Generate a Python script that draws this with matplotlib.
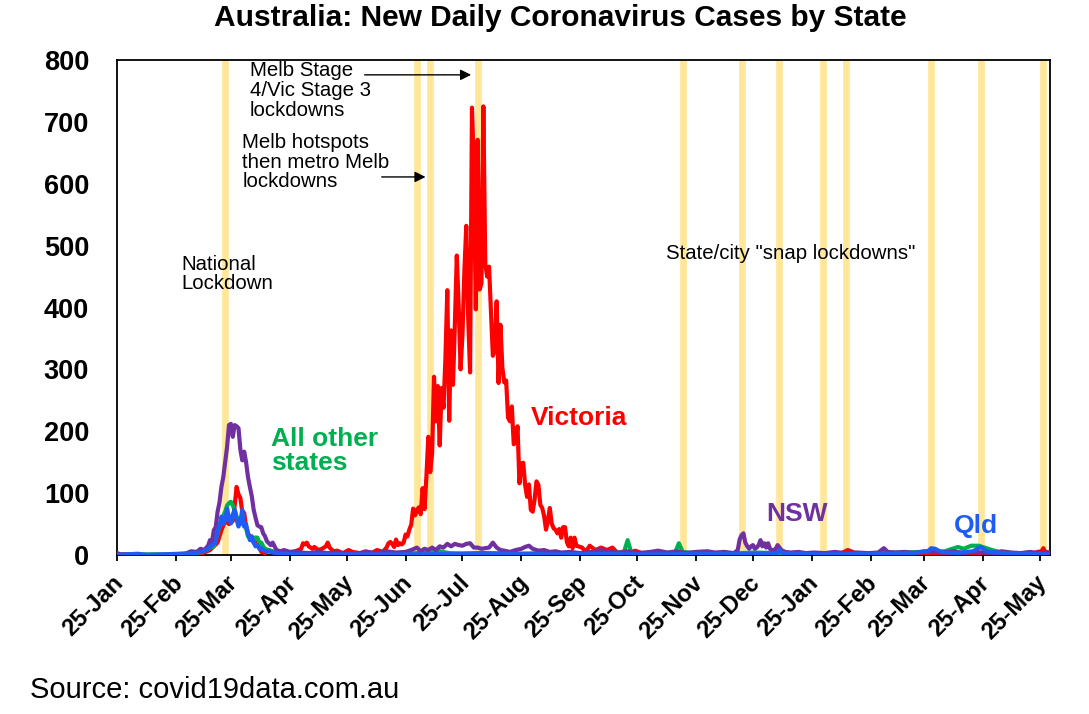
import matplotlib
matplotlib.use("Agg")
import matplotlib.pyplot as plt
import matplotlib.dates as mdates
from matplotlib.transforms import ScaledTranslation
import pandas as pd

plt.rcParams['font.family'] = ['Liberation Sans', 'DejaVu Sans']

# ---------------- data ----------------
vic_dates = [
    "2020-01-25", "2020-02-01", "2020-02-15", "2020-03-01", "2020-03-06", "2020-03-10",
    "2020-03-14", "2020-03-16", "2020-03-18", "2020-03-20", "2020-03-22", "2020-03-24",
    "2020-03-26", "2020-03-27", "2020-03-28", "2020-03-29", "2020-03-30", "2020-03-31",
    "2020-04-01", "2020-04-02", "2020-04-03", "2020-04-04", "2020-04-05", "2020-04-06",
    "2020-04-07", "2020-04-08", "2020-04-09", "2020-04-10", "2020-04-12", "2020-04-14",
    "2020-04-16", "2020-04-18", "2020-04-20", "2020-04-22", "2020-04-25", "2020-04-28",
    "2020-05-01", "2020-05-02", "2020-05-03", "2020-05-04", "2020-05-05", "2020-05-06",
    "2020-05-07", "2020-05-08", "2020-05-10", "2020-05-12", "2020-05-14", "2020-05-15",
    "2020-05-16", "2020-05-18", "2020-05-20", "2020-05-23", "2020-05-26", "2020-05-28",
    "2020-06-01", "2020-06-04", "2020-06-07", "2020-06-10", "2020-06-13", "2020-06-15",
    "2020-06-16", "2020-06-17", "2020-06-18", "2020-06-19", "2020-06-20", "2020-06-21",
    "2020-06-22", "2020-06-23", "2020-06-24", "2020-06-25", "2020-06-26", "2020-06-27",
    "2020-06-28", "2020-06-29", "2020-06-30",
    "2020-07-01", "2020-07-02", "2020-07-03", "2020-07-04", "2020-07-05", "2020-07-06",
    "2020-07-07", "2020-07-08", "2020-07-09", "2020-07-10", "2020-07-11", "2020-07-12",
    "2020-07-13", "2020-07-14", "2020-07-15", "2020-07-16", "2020-07-17", "2020-07-18",
    "2020-07-19", "2020-07-20", "2020-07-21", "2020-07-22", "2020-07-23", "2020-07-24",
    "2020-07-25", "2020-07-26", "2020-07-27", "2020-07-28", "2020-07-29", "2020-07-30",
    "2020-07-31", "2020-08-01", "2020-08-02", "2020-08-03", "2020-08-04", "2020-08-05",
    "2020-08-06", "2020-08-07", "2020-08-08", "2020-08-09", "2020-08-10", "2020-08-11",
    "2020-08-12", "2020-08-13", "2020-08-14", "2020-08-15", "2020-08-16", "2020-08-17",
    "2020-08-18", "2020-08-19", "2020-08-20", "2020-08-21", "2020-08-22", "2020-08-23",
    "2020-08-24", "2020-08-25", "2020-08-26", "2020-08-27", "2020-08-28", "2020-08-29",
    "2020-08-30", "2020-08-31", "2020-09-01", "2020-09-02", "2020-09-03", "2020-09-04",
    "2020-09-05", "2020-09-06", "2020-09-07", "2020-09-08", "2020-09-09", "2020-09-10",
    "2020-09-11", "2020-09-12", "2020-09-13", "2020-09-14", "2020-09-15", "2020-09-16",
    "2020-09-17", "2020-09-18", "2020-09-19", "2020-09-20", "2020-09-21", "2020-09-22",
    "2020-09-23", "2020-09-24", "2020-09-26", "2020-09-28", "2020-09-30", "2020-10-03",
    "2020-10-06", "2020-10-09", "2020-10-12", "2020-10-15", "2020-10-19", "2020-10-24",
    "2020-10-30", "2020-11-10", "2020-11-25", "2020-12-10", "2020-12-25", "2021-01-02",
    "2021-01-05", "2021-01-12", "2021-01-25", "2021-02-08", "2021-02-11", "2021-02-13",
    "2021-02-18", "2021-03-01", "2021-03-20", "2021-04-10", "2021-05-01", "2021-05-20",
    "2021-05-24", "2021-05-26", "2021-05-27", "2021-05-28", "2021-05-30",
]
vic_vals = [
    1, 0, 0, 0, 2, 3,
    8, 14, 20, 40, 55, 50,
    55, 80, 110, 98, 92, 70,
    68, 45, 35, 30, 25, 20,
    28, 18, 12, 5, 3, 8,
    5, 3, 5, 4, 3, 6,
    10, 19, 17, 20, 14, 12,
    10, 13, 8, 10, 14, 20,
    12, 6, 7, 3, 8, 5,
    3, 6, 3, 8, 5, 12,
    19, 21, 18, 13, 25, 16,
    19, 17, 20, 33, 30, 41,
    49, 75, 64,
    73, 77, 66, 108, 74, 127,
    191, 134, 165, 288, 216, 273,
    177, 270, 238, 317, 428, 217,
    363, 275, 374, 484, 403, 300,
    357, 459, 532, 384, 295, 723,
    627, 397, 671, 429, 439, 725,
    471, 450, 466, 394, 322, 331,
    410, 278, 372, 303, 279, 282,
    222, 216, 240, 179, 182, 208,
    116, 148, 149, 113, 94, 114,
    73, 70, 90, 119, 113, 81,
    76, 63, 41, 55, 76, 51,
    43, 41, 35, 42, 28, 45,
    45, 21, 14, 28, 11, 28,
    15, 14, 12, 5, 15, 8,
    12, 8, 12, 2, 1, 7,
    0, 0, 0, 0, 0, 3,
    5, 0, 0, 0, 5, 8,
    2, 0, 1, 0, 0, 1,
    5, 6, 11, 5, 4,
]

nsw_dates = [
    "2020-01-25", "2020-01-27", "2020-02-05", "2020-02-20", "2020-03-01", "2020-03-04",
    "2020-03-07", "2020-03-09", "2020-03-11", "2020-03-13", "2020-03-14", "2020-03-15",
    "2020-03-16", "2020-03-17", "2020-03-18", "2020-03-19", "2020-03-20", "2020-03-21",
    "2020-03-22", "2020-03-23", "2020-03-24", "2020-03-25", "2020-03-26", "2020-03-27",
    "2020-03-28", "2020-03-29", "2020-03-30", "2020-03-31", "2020-04-01", "2020-04-02",
    "2020-04-03", "2020-04-04", "2020-04-05", "2020-04-06", "2020-04-07", "2020-04-08",
    "2020-04-09", "2020-04-10", "2020-04-11", "2020-04-12", "2020-04-13", "2020-04-14",
    "2020-04-15", "2020-04-16", "2020-04-17", "2020-04-18", "2020-04-20", "2020-04-22",
    "2020-04-25", "2020-04-28", "2020-05-01", "2020-05-05", "2020-05-10", "2020-05-15",
    "2020-05-20", "2020-05-25", "2020-06-01", "2020-06-05", "2020-06-10", "2020-06-15",
    "2020-06-20", "2020-06-25", "2020-06-28", "2020-07-01", "2020-07-03", "2020-07-05",
    "2020-07-07", "2020-07-09", "2020-07-11", "2020-07-13", "2020-07-15", "2020-07-17",
    "2020-07-19", "2020-07-21", "2020-07-23", "2020-07-25", "2020-07-27", "2020-07-29",
    "2020-07-31", "2020-08-02", "2020-08-04", "2020-08-06", "2020-08-08", "2020-08-10",
    "2020-08-12", "2020-08-14", "2020-08-16", "2020-08-19", "2020-08-22", "2020-08-25",
    "2020-08-27", "2020-08-29", "2020-08-31", "2020-09-03", "2020-09-06", "2020-09-09",
    "2020-09-12", "2020-09-15", "2020-09-20", "2020-09-25", "2020-10-01", "2020-10-05",
    "2020-10-10", "2020-10-15", "2020-10-20", "2020-10-25", "2020-11-01", "2020-11-05",
    "2020-11-10", "2020-11-15", "2020-11-20", "2020-11-25", "2020-12-01", "2020-12-05",
    "2020-12-10", "2020-12-15", "2020-12-17", "2020-12-18", "2020-12-19", "2020-12-20",
    "2020-12-21", "2020-12-22", "2020-12-23", "2020-12-24", "2020-12-25", "2020-12-26",
    "2020-12-27", "2020-12-28", "2020-12-29", "2020-12-30", "2020-12-31", "2021-01-01",
    "2021-01-02", "2021-01-03", "2021-01-04", "2021-01-05", "2021-01-06", "2021-01-07",
    "2021-01-08", "2021-01-09", "2021-01-11", "2021-01-14", "2021-01-18", "2021-01-22",
    "2021-01-26", "2021-02-01", "2021-02-06", "2021-02-12", "2021-02-18", "2021-02-24",
    "2021-03-01", "2021-03-04", "2021-03-06", "2021-03-10", "2021-03-15", "2021-03-20",
    "2021-03-25", "2021-03-30", "2021-04-04", "2021-04-10", "2021-04-15", "2021-04-20",
    "2021-04-25", "2021-05-01", "2021-05-05", "2021-05-10", "2021-05-15", "2021-05-20",
    "2021-05-25", "2021-05-30",
]
nsw_vals = [
    3, 1, 0, 0, 2, 6,
    5, 10, 8, 15, 24, 20,
    40, 45, 70, 85, 110, 126,
    150, 175, 210, 212, 191, 210,
    208, 205, 170, 153, 167, 150,
    126, 110, 95, 73, 60, 48,
    46, 45, 35, 30, 22, 19,
    16, 20, 14, 8, 6, 8,
    5, 6, 4, 3, 5, 3,
    4, 2, 3, 5, 3, 6,
    4, 5, 8, 12, 6, 10,
    8, 12, 8, 14, 12, 18,
    14, 18, 16, 15, 18, 19,
    12, 12, 10, 11, 12, 20,
    12, 8, 7, 5, 8, 10,
    13, 15, 10, 7, 8, 5,
    6, 4, 5, 3, 5, 8,
    6, 4, 6, 3, 5, 7,
    4, 6, 3, 5, 6, 4,
    5, 3, 8, 25, 32, 35,
    20, 14, 10, 14, 16, 10,
    12, 16, 24, 14, 19, 12,
    19, 10, 8, 8, 10, 16,
    12, 8, 5, 4, 5, 3,
    4, 3, 5, 3, 4, 3,
    4, 11, 5, 4, 5, 3,
    6, 5, 4, 6, 3, 5,
    4, 3, 6, 4, 3, 5,
    3, 4,
]

oth_dates = [
    "2020-01-25", "2020-02-10", "2020-02-28", "2020-03-05", "2020-03-10", "2020-03-13",
    "2020-03-16", "2020-03-18", "2020-03-20", "2020-03-22", "2020-03-23", "2020-03-24",
    "2020-03-25", "2020-03-26", "2020-03-27", "2020-03-28", "2020-03-29", "2020-03-30",
    "2020-03-31", "2020-04-01", "2020-04-02", "2020-04-03", "2020-04-04", "2020-04-05",
    "2020-04-06", "2020-04-07", "2020-04-08", "2020-04-09", "2020-04-10", "2020-04-11",
    "2020-04-12", "2020-04-14", "2020-04-16", "2020-04-19", "2020-04-23", "2020-05-01",
    "2020-05-15", "2020-06-01", "2020-06-15", "2020-07-01", "2020-07-10", "2020-07-18",
    "2020-07-25", "2020-08-05", "2020-08-20", "2020-09-05", "2020-09-20", "2020-10-05",
    "2020-10-18", "2020-10-20", "2020-10-22", "2020-11-01", "2020-11-14", "2020-11-16",
    "2020-11-18", "2020-11-25", "2020-12-10", "2020-12-25", "2021-01-10", "2021-01-25",
    "2021-02-10", "2021-02-25", "2021-03-10", "2021-03-25", "2021-04-05", "2021-04-12",
    "2021-04-15", "2021-04-19", "2021-04-23", "2021-04-27", "2021-04-30", "2021-05-05",
    "2021-05-15", "2021-05-30",
]
oth_vals = [
    0, 1, 1, 2, 5, 10,
    14, 35, 57, 70, 80, 84,
    86, 80, 73, 62, 57, 50,
    55, 48, 43, 30, 28, 30,
    24, 28, 28, 19, 20, 14,
    10, 8, 6, 3, 2, 2,
    1, 2, 1, 3, 8, 3,
    2, 3, 2, 3, 2, 3,
    4, 24, 3, 2, 4, 19,
    5, 3, 2, 4, 3, 2,
    3, 2, 4, 5, 6, 13,
    10, 15, 15, 11, 8, 4,
    2, 2,
]

qld_dates = [
    "2020-01-25", "2020-01-29", "2020-02-05", "2020-02-10", "2020-03-05", "2020-03-10",
    "2020-03-13", "2020-03-15", "2020-03-17", "2020-03-18", "2020-03-19", "2020-03-20",
    "2020-03-21", "2020-03-22", "2020-03-23", "2020-03-24", "2020-03-25", "2020-03-26",
    "2020-03-27", "2020-03-28", "2020-03-29", "2020-03-30", "2020-03-31", "2020-04-01",
    "2020-04-02", "2020-04-03", "2020-04-04", "2020-04-05", "2020-04-06", "2020-04-07",
    "2020-04-08", "2020-04-09", "2020-04-10", "2020-04-11", "2020-04-13", "2020-04-15",
    "2020-04-18", "2020-04-22", "2020-05-01", "2020-06-01", "2020-07-01", "2020-07-20",
    "2020-08-05", "2020-08-20", "2020-09-10", "2020-10-01", "2020-11-01", "2020-12-01",
    "2020-12-25", "2021-01-07", "2021-01-08", "2021-01-10", "2021-02-01", "2021-03-01",
    "2021-03-20", "2021-03-27", "2021-03-29", "2021-03-31", "2021-04-03", "2021-04-10",
    "2021-04-20", "2021-04-24", "2021-04-27", "2021-05-05", "2021-05-20", "2021-05-30",
]
qld_vals = [
    0, 1, 2, 0, 3, 5,
    10, 16, 20, 40, 46, 62,
    50, 57, 75, 60, 51, 65,
    73, 57, 46, 55, 73, 46,
    50, 35, 24, 30, 20, 14,
    16, 10, 11, 8, 6, 5,
    3, 2, 1, 1, 1, 2,
    3, 2, 1, 2, 1, 2,
    2, 3, 8, 3, 1, 2,
    3, 6, 11, 10, 5, 3,
    6, 13, 6, 3, 2, 1,
]

lockdown_dates = [
    "2020-03-22", "2020-07-01", "2020-07-08", "2020-08-02", "2020-11-18", "2020-12-19",
    "2021-01-08", "2021-01-31", "2021-02-12", "2021-03-29", "2021-04-24", "2021-05-27",
]

tick_dates = pd.date_range("2020-01-01", "2021-05-01", freq="MS") + pd.Timedelta(days=24)
y_ticks = list(range(0, 801, 100))

RED = "#FF0000"
GREEN = "#00B050"
PURPLE = "#7030A0"
BLUE = "#1F5BF5"
BAND = "#FFE699"

# ---------------- figure ----------------
fig = plt.figure(figsize=(10.89, 7.14), dpi=100)
ax = fig.add_axes([117 / 1089, 1 - 555 / 714, (1050 - 117) / 1089, (555 - 60) / 714])

for d in lockdown_dates:
    ax.axvline(pd.Timestamp(d), color=BAND, lw=4.8, zorder=1)

lw = 3.0
ax.plot(pd.to_datetime(vic_dates), vic_vals, color=RED, lw=lw, zorder=3, solid_joinstyle="round")
ax.plot(pd.to_datetime(oth_dates), oth_vals, color=GREEN, lw=lw, zorder=3, solid_joinstyle="round")
ax.plot(pd.to_datetime(nsw_dates), nsw_vals, color=PURPLE, lw=lw, zorder=3, solid_joinstyle="round")
ax.plot(pd.to_datetime(qld_dates), qld_vals, color=BLUE, lw=lw, zorder=3, solid_joinstyle="round")

ax.set_xlim(pd.Timestamp("2020-01-25"), pd.Timestamp("2021-05-30 12:00"))
ax.set_ylim(0, 800)
ax.set_yticks(y_ticks)
ax.set_xticks(tick_dates)
ax.xaxis.set_major_formatter(mdates.DateFormatter("%d-%b"))

for sp in ax.spines.values():
    sp.set_linewidth(1.3)
    sp.set_color("black")

ax.tick_params(axis="y", length=0, pad=20, labelsize=19.5)
ax.tick_params(axis="x", direction="out", length=4.3, width=1.3, pad=7.5, labelsize=17)
for lbl in ax.get_yticklabels():
    lbl.set_fontweight("bold")
for lbl in ax.get_xticklabels():
    lbl.set_fontweight("bold")
    lbl.set_rotation(45)
    lbl.set_ha("right")
    lbl.set_va("top")
    lbl.set_rotation_mode("anchor")
    lbl.set_transform(lbl.get_transform() + ScaledTranslation(-5 / 100, 0, fig.dpi_scale_trans))

# ---------------- texts ----------------
fig.text(560 / 1089, 1 - 18 / 714, "Australia: New Daily Coronavirus Cases by State",
         ha="center", va="center", fontsize=21.5, fontweight="bold")
fig.text(30 / 1089, 1 - 690 / 714, "Source: covid19data.com.au",
         ha="left", va="center", fontsize=21)

ann_fs = 14.7
ax.text(pd.Timestamp("2020-02-28"), 454, "National\nLockdown", ha="left", va="center",
        fontsize=ann_fs, linespacing=1.05)
ax.text(pd.Timestamp("2020-04-04"), 751, "Melb Stage\n4/Vic Stage 3\nlockdowns", ha="left",
        va="center", fontsize=ann_fs, linespacing=1.05)
ax.text(pd.Timestamp("2020-03-31"), 635, "Melb hotspots\nthen metro Melb\nlockdowns", ha="left",
        va="center", fontsize=ann_fs, linespacing=1.05)
ax.text(pd.Timestamp("2020-11-09"), 488, 'State/city "snap lockdowns"', ha="left", va="center",
        fontsize=ann_fs)

ax.annotate("", xy=(pd.Timestamp("2020-07-31"), 776), xytext=(pd.Timestamp("2020-06-02"), 776),
            arrowprops=dict(arrowstyle="-|>", color="black", lw=1, mutation_scale=16))
ax.annotate("", xy=(pd.Timestamp("2020-07-07"), 611), xytext=(pd.Timestamp("2020-06-11"), 611),
            arrowprops=dict(arrowstyle="-|>", color="black", lw=1, mutation_scale=16))

lab_fs = 19
ax.text(pd.Timestamp("2020-04-15"), 168, "All other\nstates", ha="left", va="center",
        fontsize=lab_fs, fontweight="bold", color=GREEN, linespacing=1.0)
ax.text(pd.Timestamp("2020-08-30"), 221, "Victoria", ha="left", va="center",
        fontsize=lab_fs, fontweight="bold", color=RED)
ax.text(pd.Timestamp("2021-01-01"), 66, "NSW", ha="left", va="center",
        fontsize=lab_fs, fontweight="bold", color=PURPLE)
ax.text(pd.Timestamp("2021-04-10"), 47, "Qld", ha="left", va="center",
        fontsize=lab_fs, fontweight="bold", color=BLUE)

fig.savefig("out.png", dpi=100)
